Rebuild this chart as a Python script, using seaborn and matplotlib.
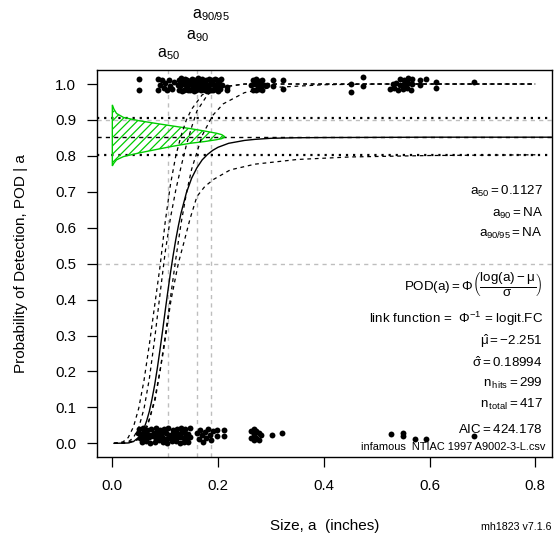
import matplotlib
matplotlib.use("Agg")
import matplotlib.pyplot as plt
import seaborn as sns
import pandas as pd
from matplotlib.transforms import blended_transform_factory

# ---------------- data ----------------
x_ticks = [0.0, 0.2, 0.4, 0.6, 0.8]
x_tick_labels = ["0.0", "0.2", "0.4", "0.6", "0.8"]
y_ticks = [0.0, 0.1, 0.2, 0.3, 0.4, 0.5, 0.6, 0.7, 0.8, 0.9, 1.0]
y_tick_labels = ["0.0", "0.1", "0.2", "0.3", "0.4", "0.5", "0.6", "0.7", "0.8", "0.9", "1.0"]

# jittered hits (plotted near POD = 1)
hit_a = [0.051, 0.051, 0.086, 0.086, 0.090,
         0.094, 0.097, 0.100, 0.103, 0.107, 0.110, 0.113, 0.116,
         0.126, 0.130, 0.134, 0.138, 0.142, 0.146, 0.150, 0.154, 0.158, 0.162, 0.166,
         0.170, 0.174, 0.178, 0.182, 0.186, 0.190, 0.194, 0.198, 0.202, 0.206,
         0.124, 0.128, 0.132, 0.136, 0.140, 0.144, 0.148, 0.152, 0.156, 0.160, 0.164,
         0.168, 0.172, 0.176, 0.180, 0.184, 0.188, 0.192, 0.196, 0.200, 0.204, 0.208,
         0.127, 0.131, 0.135, 0.139, 0.143, 0.147, 0.151, 0.155, 0.159, 0.163,
         0.167, 0.171, 0.175, 0.179, 0.183, 0.187, 0.191, 0.195, 0.199, 0.203,
         0.216, 0.216,
         0.266, 0.272, 0.278, 0.284, 0.263, 0.269, 0.275, 0.281, 0.287, 0.292,
         0.266, 0.272, 0.278, 0.284,
         0.303, 0.303, 0.322, 0.322,
         0.452, 0.452, 0.474, 0.474,
         0.545, 0.552, 0.560, 0.567, 0.530, 0.537, 0.545, 0.552, 0.560, 0.567,
         0.525, 0.533, 0.541, 0.549, 0.557, 0.565,
         0.582, 0.582, 0.594, 0.613, 0.613, 0.684]
hit_pod = [1.013, 0.983, 1.013, 0.983, 0.998,
           1.010, 0.988, 1.004, 0.984, 1.012, 0.995, 0.985, 1.006,
           1.012, 1.016, 1.010, 1.013, 1.012, 1.009, 1.014, 1.012, 1.010, 1.016, 1.012,
           1.014, 1.009, 1.012, 1.015, 1.010, 1.012, 1.014, 1.012, 1.009, 1.013,
           0.998, 0.995, 0.999, 1.000, 0.996, 0.998, 0.999, 0.995, 0.998, 0.996, 1.000,
           0.999, 0.995, 0.998, 0.996, 1.000, 0.999, 0.997, 0.998, 0.995, 0.998, 0.997,
           0.984, 0.981, 0.983, 0.986, 0.982, 0.984, 0.985, 0.981, 0.984, 0.986,
           0.982, 0.986, 0.983, 0.981, 0.985, 0.984, 0.982, 0.985, 0.981, 0.986,
           0.992, 0.984,
           1.010, 1.013, 1.009, 1.011, 0.996, 0.999, 0.994, 0.997, 0.998, 0.996,
           0.984, 0.982, 0.985, 0.983,
           1.010, 0.995, 1.012, 0.986,
           1.000, 0.978, 1.020, 0.995,
           1.015, 1.012, 1.017, 1.015, 1.000, 1.003, 0.998, 1.001, 1.002, 0.999,
           0.985, 0.988, 0.983, 0.986, 0.988, 0.984,
           1.012, 0.998, 1.015, 1.005, 0.990, 1.005]

# jittered misses (plotted near POD = 0)
miss_a = [0.050, 0.058, 0.066, 0.074, 0.082, 0.090, 0.098, 0.106, 0.114, 0.122, 0.130, 0.138, 0.146,
          0.048, 0.054, 0.060, 0.066, 0.072, 0.078, 0.084, 0.090, 0.096, 0.102, 0.108, 0.114,
          0.120, 0.126, 0.132, 0.138, 0.144,
          0.052, 0.058, 0.064, 0.070, 0.076, 0.082, 0.088, 0.094, 0.100, 0.106, 0.112, 0.118,
          0.124, 0.130, 0.136, 0.142, 0.147,
          0.056, 0.064, 0.072, 0.080, 0.088, 0.096, 0.104, 0.112, 0.120, 0.128, 0.136, 0.144,
          0.160, 0.163, 0.166, 0.169, 0.172, 0.175, 0.178, 0.181, 0.184, 0.187, 0.190,
          0.198, 0.198, 0.211, 0.211,
          0.262, 0.262, 0.267, 0.267, 0.267, 0.272, 0.272, 0.277, 0.277, 0.281,
          0.302, 0.321,
          0.527, 0.549, 0.549, 0.572, 0.594, 0.684]
miss_pod = [0.040, 0.043, 0.037, 0.041, 0.044, 0.038, 0.040, 0.043, 0.037, 0.041, 0.044, 0.039, 0.042,
            0.028, 0.025, 0.031, 0.027, 0.024, 0.030, 0.029, 0.026, 0.031, 0.028, 0.024, 0.030,
            0.027, 0.025, 0.031, 0.028, 0.026,
            0.016, 0.019, 0.013, 0.017, 0.020, 0.014, 0.015, 0.019, 0.012, 0.016, 0.020, 0.013,
            0.017, 0.019, 0.014, 0.016, 0.018,
            0.004, 0.007, 0.002, 0.005, 0.008, 0.003, 0.001, 0.006, 0.007, 0.002, 0.005, 0.004,
            0.030, 0.012, 0.038, 0.022, 0.005, 0.032, 0.015, 0.040, 0.024, 0.008, 0.035,
            0.037, 0.020, 0.037, 0.020,
            0.035, 0.015, 0.040, 0.025, 0.008, 0.035, 0.015, 0.028, 0.008, 0.022,
            0.023, 0.030,
            0.025, 0.028, 0.020, 0.012, 0.012, 0.020]

# fitted POD curve (solid) and confidence curves (dashed)
fit_a = [0.003, 0.03, 0.04, 0.05, 0.055, 0.06, 0.065, 0.07, 0.075, 0.08, 0.085, 0.09, 0.095,
         0.10, 0.105, 0.11, 0.115, 0.12, 0.125, 0.13, 0.14, 0.15, 0.16, 0.17, 0.18, 0.19, 0.20,
         0.22, 0.25, 0.27, 0.30, 0.35, 0.40, 0.60, 0.831]
fit_pod = [0.0, 0.001, 0.005, 0.017, 0.027, 0.042, 0.063, 0.089, 0.123, 0.162, 0.208, 0.259, 0.313,
           0.369, 0.423, 0.475, 0.523, 0.567, 0.606, 0.641, 0.697, 0.738, 0.767, 0.789, 0.804, 0.8155,
           0.824, 0.835, 0.843, 0.846, 0.849, 0.8505, 0.851, 0.852, 0.852]

band1_a = [0.003, 0.02, 0.03, 0.04, 0.05, 0.06, 0.07, 0.08, 0.09, 0.10, 0.11, 0.12, 0.13,
           0.14, 0.15, 0.17, 0.20, 0.25, 0.80]
band1_pod = [0.0, 0.004, 0.016, 0.046, 0.098, 0.176, 0.275, 0.383, 0.49, 0.616, 0.721, 0.80, 0.856,
             0.90, 0.93, 0.97, 0.99, 1.0, 1.0]

band2_a = [0.003, 0.03, 0.04, 0.05, 0.06, 0.07, 0.08, 0.09, 0.10, 0.11, 0.12, 0.13, 0.14,
           0.15, 0.16, 0.18, 0.20, 0.25, 0.80]
band2_pod = [0.0, 0.004, 0.016, 0.044, 0.097, 0.18, 0.29, 0.413, 0.532, 0.628, 0.705, 0.77, 0.83,
             0.88, 0.925, 0.97, 0.99, 1.0, 1.0]

band3_a = [0.003, 0.03, 0.05, 0.06, 0.07, 0.08, 0.09, 0.10, 0.11, 0.12, 0.13, 0.14, 0.15,
           0.17, 0.19, 0.21, 0.25, 0.30, 0.40, 0.50, 0.80]
band3_pod = [0.0, 0.001, 0.013, 0.032, 0.067, 0.122, 0.20, 0.298, 0.406, 0.513, 0.612, 0.695, 0.763,
             0.857, 0.913, 0.945, 0.976, 0.990, 0.998, 1.0, 1.0]

band4_a = [0.003, 0.02, 0.047, 0.066, 0.081, 0.097, 0.111, 0.125, 0.135, 0.147, 0.160, 0.175,
           0.192, 0.223, 0.27, 0.35, 0.45, 0.60, 0.80]
band4_pod = [0.0, 0.0, 0.009, 0.046, 0.121, 0.26, 0.399, 0.502, 0.557, 0.625, 0.687, 0.715,
             0.735, 0.761, 0.777, 0.790, 0.797, 0.801, 0.803]

# asymptote estimate and its bounds
asym_est = 0.852
asym_hi = 0.905
asym_lo = 0.803

# sideways density of the asymptote (green hatched shape)
dens_a = [0.0, 0.003, 0.008, 0.021, 0.05, 0.084, 0.115, 0.147, 0.175, 0.197, 0.207, 0.213,
          0.207, 0.197, 0.175, 0.147, 0.115, 0.084, 0.05, 0.021, 0.008, 0.003, 0.0]
dens_pod = [0.942, 0.930, 0.918, 0.907, 0.898, 0.890, 0.883, 0.876, 0.869, 0.863, 0.859, 0.853,
            0.848, 0.845, 0.840, 0.835, 0.827, 0.818, 0.808, 0.798, 0.789, 0.780, 0.772]

# reference lines
a_ref = [0.106, 0.161, 0.187]
a_ref_labels = [r"$\mathregular{a_{50}}$", r"$\mathregular{a_{90}}$", r"$\mathregular{a_{90/95}}$"]
a_ref_label_py = [57.3, 39.0, 18.3]
pod_ref = [0.5, 0.9]

# ---------------- style ----------------
sns.set_theme(style="ticks")
plt.rcParams["font.family"] = ["Liberation Sans", "DejaVu Sans"]
plt.rcParams.update({
    "mathtext.fontset": "custom",
    "mathtext.rm": "Liberation Sans",
    "mathtext.it": "Liberation Sans:italic",
    "mathtext.bf": "Liberation Sans:bold",
    "hatch.linewidth": 0.9,
    "hatch.color": "#00CC00",
})

W, H = 559, 542
fig = plt.figure(figsize=(W / 100, H / 100), dpi=100)
ax_l, ax_r, ax_t, ax_b = 97, 551.7, 70, 457
ax = fig.add_axes([ax_l / W, 1 - ax_b / H, (ax_r - ax_l) / W, (ax_b - ax_t) / H])
ax.set_facecolor("white")

gray = "#BEBEBE"
for xv in a_ref:
    ax.axvline(xv, color=gray, lw=1.0, linestyle=(0, (3, 3)), zorder=1)
for yv in pod_ref:
    ax.axhline(yv, color=gray, lw=1.0, linestyle=(0, (3, 3)), zorder=1)

# asymptote lines
ax.axhline(asym_hi, color="black", lw=1.6, linestyle=(0, (1, 2.2)), zorder=2)
ax.axhline(asym_lo, color="black", lw=1.6, linestyle=(0, (1, 2.2)), zorder=2)
ax.axhline(asym_est, color="black", lw=1.0, linestyle=(0, (3, 3)), zorder=2)

# hatched density
ax.fill(dens_a, dens_pod, facecolor="none", edgecolor="#00CC00", hatch="////", lw=1.0, zorder=3)

# curves
dash = (0, (3, 3))
for bx, by in [(band1_a, band1_pod), (band2_a, band2_pod), (band3_a, band3_pod), (band4_a, band4_pod)]:
    sns.lineplot(x=bx, y=by, ax=ax, color="black", lw=0.9, linestyle=dash,
                 estimator=None, sort=False, zorder=4)
sns.lineplot(x=fit_a, y=fit_pod, ax=ax, color="black", lw=1.0, estimator=None, sort=False, zorder=5)

# data points
sns.scatterplot(x=hit_a, y=hit_pod, ax=ax, color="black", s=18, linewidth=0, zorder=6)
sns.scatterplot(x=miss_a, y=miss_pod, ax=ax, color="black", s=18, linewidth=0, zorder=6)

ax.set_xlim(-0.029, 0.831)
ax.set_ylim(-0.038, 1.039)
ax.set_xticks(x_ticks)
ax.set_xticklabels(x_tick_labels)
ax.set_yticks(y_ticks)
ax.set_yticklabels(y_tick_labels)
ax.tick_params(axis="both", length=7, width=0.9, color="black", labelsize=10.8, labelcolor="black")
ax.tick_params(axis="x", pad=9)
ax.tick_params(axis="y", pad=8)
for sp in ax.spines.values():
    sp.set_visible(True)
    sp.set_color("black")
    sp.set_linewidth(1.0)

ax.set_xlabel("Size, a  (inches)", fontsize=11, color="black")
ax.set_ylabel("Probability of Detection, POD | a", fontsize=11, color="black")
ax.xaxis.set_label_coords(0.5, (ax_b - 519) / (ax_b - ax_t))
ax.yaxis.set_label_coords((28 - ax_l) / (ax_r - ax_l), 0.5)

# labels above the plot
tr = blended_transform_factory(ax.transData, fig.transFigure)
for xv, lab, py in zip(a_ref, a_ref_labels, a_ref_label_py):
    ax.text(xv, 1 - py / H, lab, transform=tr, ha="center", va="baseline", fontsize=11.5, color="black")

# annotations inside
def ay(py):
    return (ax_b - py) / (ax_b - ax_t)

xr = (542.7 - ax_l) / (ax_r - ax_l)
notes = [
    (r"$\mathregular{a_{50} = 0.1127}$", 195.0, "baseline"),
    (r"$\mathregular{a_{90} = NA}$", 216.7, "baseline"),
    (r"$\mathregular{a_{90/95} = NA}$", 236.7, "baseline"),
    (r"$\mathrm{POD(a)} = \Phi\left(\dfrac{\mathrm{log(a)} - \mathrm{\mu}}{\mathrm{\sigma}}\right)$", 285.0, "center"),
    (r"link function =  $\mathregular{\Phi^{-1}}$ = logit.FC", 322.7, "baseline"),
    (r"$\hat{\mathrm{\mu}} = \mathrm{-2.251}$", 345.0, "baseline"),
    (r"$\hat{\mathrm{\sigma}} = \mathrm{0.18994}$", 367.3, "baseline"),
    (r"$\mathrm{n}_{\,\mathrm{hits}} = \mathrm{299}$", 386.7, "baseline"),
    (r"$\mathrm{n}_{\,\mathrm{total}} = \mathrm{417}$", 408.3, "baseline"),
    (r"$\mathrm{AIC} = \mathrm{424.178}$", 433.3, "baseline"),
]
for txt, py, va in notes:
    ax.text(xr, ay(py), txt, transform=ax.transAxes, ha="right", va=va, fontsize=9.6, color="black")
ax.text((545 - ax_l) / (ax_r - ax_l), ay(450.0), "infamous  NTIAC 1997 A9002-3-L.csv",
        transform=ax.transAxes, ha="right", va="baseline", fontsize=7.9, color="black")

fig.text(551.7 / W, 1 - 530 / H, "mh1823 v7.1.6", ha="right", va="baseline", fontsize=7.7, color="black")

fig.savefig("out.png", dpi=100)
